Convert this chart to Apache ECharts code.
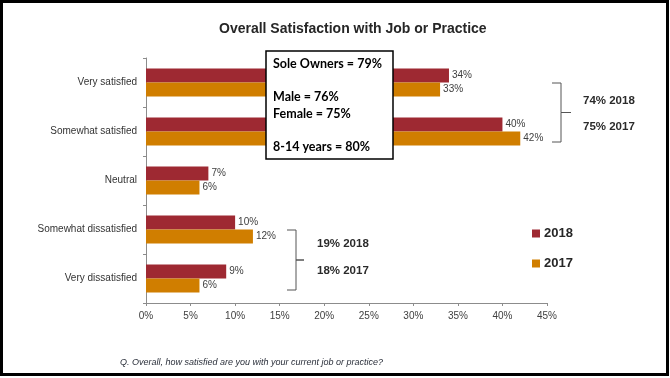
<!DOCTYPE html>
<html>
<head>
<meta charset="utf-8">
<script src="https://cdn.jsdelivr.net/npm/echarts@6/dist/echarts.min.js"></script>
<style>
  html, body { margin: 0; padding: 0; background: #fff; }
  #chart { width: 670px; height: 378px; }
</style>
</head>
<body>
<div id="chart"></div>
<script>
// Survey categories, top to bottom
const categories = ['Very satisfied', 'Somewhat satisfied', 'Neutral', 'Somewhat dissatisfied', 'Very dissatisfied'];
// Percent of respondents per answer
const values2018 = [34, 40, 7, 10, 9];
const values2017 = [33, 42, 6, 12, 6];
const seriesNames = ['2018', '2017'];
// Value axis ticks (percent)
const xTicks = [0, 5, 10, 15, 20, 25, 30, 35, 40, 45];

// Callout box lines and grouped totals
const calloutLines = ['Sole Owners = 79%', '', 'Male = 76%', 'Female = 75%', '', '8-14 years = 80%'];
const satisfiedTotals = ['74% 2018', '75% 2017'];
const dissatisfiedTotals = ['19% 2018', '18% 2017'];
const titleText = 'Overall Satisfaction with Job or Practice';
const questionText = 'Q. Overall, how satisfied are you with your current job or practice?';

const SANS = '"Liberation Sans", Arial, sans-serif';
const RED = '#9E2932';
const ORANGE = '#D07E00';

const chart = echarts.init(document.getElementById('chart'));

const labelStyle = {
  show: true,
  position: 'right',
  distance: 3,
  formatter: '{c}%',
  color: '#404040',
  fontFamily: SANS,
  fontSize: 10
};

// Bracket path grouping two categories
function bracket(x0, yTop, yBot, xTip) {
  const xm = x0 + 9;
  const ym = (yTop + yBot) / 2;
  return {
    type: 'polyline',
    silent: true,
    shape: { points: [[x0, yTop], [xm, yTop], [xm, ym], [xTip, ym], [xm, ym], [xm, yBot], [x0, yBot]] },
    style: { stroke: '#555', lineWidth: 1, fill: null }
  };
}

function textEl(x, y, text, font, extra, z) {
  return {
    type: 'text',
    silent: true,
    z: z || 10,
    x: x, y: y,
    style: Object.assign({ text: text, font: font, fill: '#2b2b2b', textVerticalAlign: 'middle' }, extra || {})
  };
}

// Callout box drawn above the bars
const callout = [{
  type: 'rect',
  silent: true,
  z: 100,
  shape: { x: 266, y: 51, width: 127, height: 108 },
  style: { fill: '#fff', stroke: '#000', lineWidth: 1.5 }
}];
const calloutY = [64, 80.5, 97, 114, 130.5, 147];
calloutLines.forEach(function (line, i) {
  if (line) {
    callout.push(textEl(273, calloutY[i], line, 'bold 12.5px Lato, "Open Sans", sans-serif', { fill: '#000' }, 101));
  }
});

chart.setOption({
  animation: false,
  title: {
    text: titleText,
    left: 214,
    top: 17,
    textStyle: { fontFamily: SANS, fontSize: 14, fontWeight: 'bold', color: '#262626' }
  },
  legend: {
    orient: 'vertical',
    left: 527,
    top: 222,
    itemWidth: 8,
    itemHeight: 8,
    itemGap: 17,
    icon: 'rect',
    data: seriesNames,
    textStyle: { fontFamily: SANS, fontSize: 13, fontWeight: 'bold', color: '#262626', padding: [0, 0, 0, -1] }
  },
  grid: { left: 146, right: 123, top: 58, bottom: 75, containLabel: false },
  xAxis: {
    type: 'value',
    min: 0,
    max: 45,
    interval: 5,
    axisLine: { show: true, lineStyle: { color: '#8c8c8c' } },
    axisTick: { show: true, length: 3, lineStyle: { color: '#8c8c8c' } },
    splitLine: { show: false },
    axisLabel: {
      color: '#404040',
      fontFamily: SANS,
      fontSize: 10,
      margin: 8,
      formatter: function (v) { return xTicks.indexOf(v) >= 0 ? v + '%' : ''; }
    }
  },
  yAxis: {
    type: 'category',
    inverse: true,
    data: categories,
    axisLine: { show: true, lineStyle: { color: '#8c8c8c' } },
    axisTick: { show: true, length: 3, lineStyle: { color: '#8c8c8c' } },
    axisLabel: { color: '#333', fontFamily: SANS, fontSize: 10, margin: 9 }
  },
  series: [
    {
      name: seriesNames[0],
      type: 'bar',
      data: values2018,
      barWidth: 14,
      barGap: '0%',
      itemStyle: { color: RED },
      label: labelStyle
    },
    {
      name: seriesNames[1],
      type: 'bar',
      data: values2017,
      barWidth: 14,
      barGap: '0%',
      itemStyle: { color: ORANGE },
      label: labelStyle
    }
  ],
  graphic: [
    {
      type: 'rect',
      silent: true,
      z: 100,
      shape: { x: 1.5, y: 1.5, width: 666, height: 373 },
      style: { fill: null, stroke: '#000', lineWidth: 3 }
    },
    bracket(552, 83, 142, 571),
    textEl(583, 101, satisfiedTotals[0], 'bold 11.5px ' + SANS),
    textEl(583, 127, satisfiedTotals[1], 'bold 11.5px ' + SANS),
    bracket(287, 230, 290, 304),
    textEl(317, 244, dissatisfiedTotals[0], 'bold 11.5px ' + SANS),
    textEl(317, 271, dissatisfiedTotals[1], 'bold 11.5px ' + SANS),
    textEl(120, 362, questionText, 'italic 9px ' + SANS, { fill: '#2a2f3a' })
  ].concat(callout)
});
</script>
</body>
</html>
